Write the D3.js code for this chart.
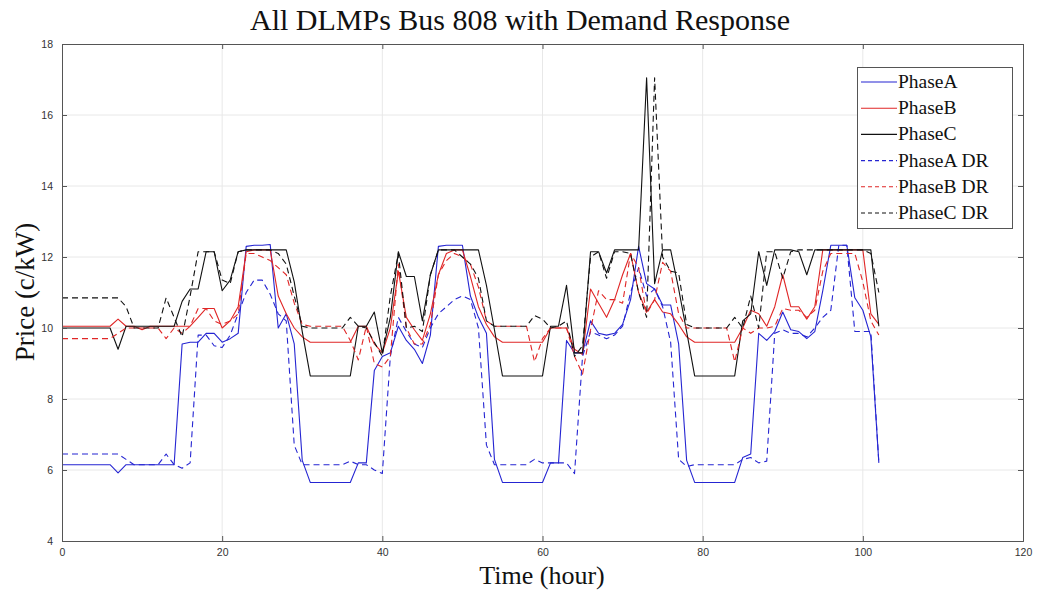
<!DOCTYPE html>
<html><head><meta charset="utf-8">
<script src="https://cdn.jsdelivr.net/npm/d3@7"></script>
<style>
html,body{margin:0;padding:0;background:#fff;}
svg{display:block;}
</style></head>
<body>
<svg id="chart" width="1039" height="590"></svg>
<script>
const hours = d3.range(0, 103);
const xTicks = [0, 20, 40, 60, 80, 100, 120];
const yTicks = [4, 6, 8, 10, 12, 14, 16, 18];
const seriesNames = ["PhaseA", "PhaseB", "PhaseC", "PhaseA DR", "PhaseB DR", "PhaseC DR"];

const phaseA = [6.15,6.15,6.15,6.15,6.15,6.15,6.15,5.92,6.15,6.15,
 6.15,6.15,6.15,6.15,6.15,9.55,9.6,9.6,9.85,9.85,
 9.6,9.7,9.85,12.3,12.33,12.33,12.35,10.0,10.4,9.55,
 6.27,5.65,5.65,5.65,5.65,5.65,5.65,6.2,6.2,8.8,
 9.2,9.3,10.05,9.65,9.4,9.0,9.8,12.3,12.33,12.33,
 12.33,10.9,10.3,9.85,6.3,5.65,5.65,5.65,5.65,5.65,
 5.65,6.2,6.2,9.65,9.3,9.3,10.2,9.85,9.8,9.85,
 10.1,10.8,12.3,11.25,11.1,10.65,10.65,9.55,6.27,5.65,
 5.65,5.65,5.65,5.65,5.65,6.35,6.45,9.85,9.65,9.9,
 10.45,9.95,9.9,9.7,9.9,11.05,12.33,12.33,12.33,10.85,
 10.5,9.75,6.2];
const phaseB = [10.05,10.05,10.05,10.05,10.05,10.05,10.05,10.25,10.05,10.05,
 9.95,10.05,10.05,10.05,10.05,10.05,10.05,10.3,10.55,10.55,
 10.0,10.2,10.6,12.15,12.2,12.2,12.2,10.9,10.4,10.0,
 9.75,9.6,9.6,9.6,9.6,9.6,9.6,10.05,10.05,9.55,
 9.3,10.0,11.6,10.3,9.95,9.65,10.4,11.5,12.1,12.2,
 12.2,11.45,10.6,10.1,9.75,9.6,9.6,9.6,9.6,9.6,
 9.6,10.0,10.0,10.0,9.4,9.25,11.1,10.7,10.3,10.8,
 11.5,12.1,11.0,10.45,10.8,10.45,10.4,10.1,9.75,9.6,
 9.6,9.6,9.6,9.6,9.6,10.0,10.5,10.4,10.05,10.6,
 11.5,10.6,10.6,10.25,10.6,12.2,12.2,12.2,12.2,12.2,
 12.2,10.4,10.1];
const phaseC = [10.0,10.0,10.0,10.0,10.0,10.0,10.0,9.4,10.05,10.05,
 10.05,10.05,10.05,10.05,10.05,10.75,11.1,11.1,12.15,12.15,
 11.05,11.35,12.15,12.2,12.2,12.2,12.2,12.2,12.2,11.3,
 9.9,8.65,8.65,8.65,8.65,8.65,8.65,10.05,10.05,10.45,
 9.3,10.3,12.15,11.45,11.45,10.2,11.5,12.2,12.2,12.2,
 12.2,12.2,12.2,11.2,9.95,8.65,8.65,8.65,8.65,8.65,
 8.65,10.05,10.05,11.2,9.3,9.3,12.15,12.15,11.55,12.2,
 12.2,12.2,12.2,17.05,11.25,12.2,12.2,11.1,9.9,8.65,
 8.65,8.65,8.65,8.65,8.65,10.2,10.4,12.15,11.2,12.2,
 12.2,12.2,12.15,11.5,12.2,12.2,12.2,12.2,12.2,12.2,
 12.2,12.2,10.05];
const phaseADR = [6.45,6.45,6.45,6.45,6.45,6.45,6.45,6.45,6.3,6.15,
 6.15,6.15,6.15,6.45,6.15,6.05,6.2,9.8,9.8,9.5,
 9.45,9.8,10.4,11.0,11.35,11.35,10.95,10.4,10.2,6.7,
 6.15,6.15,6.15,6.15,6.15,6.15,6.25,6.15,6.15,6.0,
 5.9,9.2,10.3,9.9,9.55,9.45,10.0,10.4,10.6,10.8,
 10.9,10.8,10.0,6.7,6.15,6.15,6.15,6.15,6.15,6.3,
 6.2,6.2,6.2,6.2,5.9,9.2,9.9,9.8,9.7,9.8,
 10.05,11.0,11.7,10.9,11.1,10.6,9.6,6.3,6.1,6.15,
 6.15,6.15,6.15,6.15,6.15,6.3,6.35,6.2,6.25,9.85,
 9.95,9.85,9.85,9.75,10.0,10.3,10.5,12.33,12.33,9.9,
 9.9,9.9,6.2];
const phaseBDR = [9.7,9.7,9.7,9.7,9.7,9.7,9.7,9.85,10.0,10.0,
 10.0,10.0,10.0,9.7,10.0,9.85,10.05,10.55,10.55,10.2,
 10.1,10.2,10.4,12.1,12.1,12.0,11.9,11.7,11.5,10.7,
 10.1,10.05,10.05,10.05,10.05,10.05,9.65,9.1,10.05,9.0,
 8.9,9.2,11.8,10.0,9.55,9.55,10.1,11.5,11.9,12.1,
 12.0,11.8,11.15,10.2,10.05,10.05,10.05,10.05,10.05,9.05,
 9.7,10.0,10.0,10.0,9.2,8.7,9.95,11.05,10.8,10.8,
 10.7,12.1,11.7,10.4,10.8,11.85,11.6,10.4,10.0,10.0,
 10.0,10.0,10.0,10.0,9.05,10.0,9.85,10.0,10.0,10.05,
 10.55,10.5,10.5,10.3,10.5,11.6,12.1,12.1,12.1,12.1,
 11.3,10.2,9.8];
const phaseCDR = [10.85,10.85,10.85,10.85,10.85,10.85,10.85,10.85,10.6,10.0,
 10.0,10.0,10.0,10.85,10.3,9.75,10.9,12.15,12.15,12.15,
 11.35,11.25,12.15,12.2,12.2,12.2,12.2,12.1,11.8,10.9,
 10.05,10.0,10.0,10.0,10.0,10.0,10.3,10.05,10.0,9.6,
 9.2,10.9,12.1,10.0,10.05,9.9,11.5,12.2,12.2,12.2,
 12.0,11.8,11.4,10.2,10.05,10.05,10.05,10.05,10.05,10.35,
 10.25,10.0,10.05,10.2,9.2,9.5,12.0,12.15,11.4,12.15,
 12.15,12.1,11.0,10.3,17.05,12.0,11.6,11.55,10.1,10.0,
 10.0,10.0,10.0,10.0,10.3,10.0,10.9,10.0,12.15,12.15,
 11.4,12.15,12.2,12.2,12.2,12.2,12.2,12.2,12.2,12.2,
 12.2,12.1,11.0];

const seriesValues = [phaseA, phaseB, phaseC, phaseADR, phaseBDR, phaseCDR];
const colors = ["#2525d2", "#e02626", "#111111", "#2525d2", "#e02626", "#111111"];
const dashes = [null, null, null, "6,4", "6,4", "6,4"];

const svg = d3.select("#chart");
const M = {left: 62, top: 44, right: 1023, bottom: 541};
const x = d3.scaleLinear().domain([0, 120]).range([M.left, M.right]);
const y = d3.scaleLinear().domain([4, 18]).range([M.bottom, M.top]);

// grid
const grid = svg.append("g");
grid.selectAll("line.vx").data(xTicks.slice(1, -1)).enter().append("line")
  .attr("x1", d => x(d)).attr("x2", d => x(d)).attr("y1", M.top).attr("y2", M.bottom)
  .attr("stroke", "#e8e8e8").attr("stroke-width", 1);
grid.selectAll("line.hy").data(yTicks.slice(1, -1)).enter().append("line")
  .attr("y1", d => y(d)).attr("y2", d => y(d)).attr("x1", M.left).attr("x2", M.right)
  .attr("stroke", "#e8e8e8").attr("stroke-width", 1);

// lines
svg.append("clipPath").attr("id", "clip").append("rect")
  .attr("x", M.left).attr("y", M.top).attr("width", M.right - M.left).attr("height", M.bottom - M.top);
const lineGen = d3.line().x((d, i) => x(hours[i])).y(d => y(d));
const lg = svg.append("g").attr("clip-path", "url(#clip)");
seriesValues.forEach((vals, k) => {
  lg.append("path").datum(vals)
    .attr("d", lineGen)
    .attr("fill", "none")
    .attr("stroke", colors[k])
    .attr("stroke-width", 1.1)
    .attr("stroke-linejoin", "round")
    .attr("stroke-dasharray", dashes[k]);
});

// axes
const axisColor = "#555";
const tickFont = "Liberation Sans, Arial, sans-serif";
const xAxis = svg.append("g").attr("transform", `translate(0,${M.bottom})`)
  .call(d3.axisBottom(x).tickValues(xTicks).tickSize(-5).tickPadding(8).tickFormat(d3.format("d")));
const xAxisTop = svg.append("g").attr("transform", `translate(0,${M.top})`)
  .call(d3.axisTop(x).tickValues(xTicks).tickSize(-5).tickFormat(""));
const yAxis = svg.append("g").attr("transform", `translate(${M.left},0)`)
  .call(d3.axisLeft(y).tickValues(yTicks).tickSize(-5).tickPadding(9).tickFormat(d3.format("d")));
const yAxisR = svg.append("g").attr("transform", `translate(${M.right},0)`)
  .call(d3.axisRight(y).tickValues(yTicks).tickSize(-5).tickFormat(""));
[xAxis, xAxisTop, yAxis, yAxisR].forEach(a => {
  a.select(".domain").attr("stroke", axisColor).attr("stroke-width", 1);
  a.selectAll(".tick line").attr("stroke", axisColor).attr("stroke-width", 1);
  a.selectAll(".tick text").attr("fill", "#333").style("font-family", tickFont).style("font-size", "10.5px");
});

function fitText(sel, targetWidth) {
  const w = sel.node().getComputedTextLength();
  const fs = parseFloat(sel.style("font-size"));
  sel.style("font-size", (fs * targetWidth / w) + "px");
}
const serif = "'Liberation Serif', 'DejaVu Serif', serif";

const title = svg.append("text").attr("x", 520).attr("y", 30)
  .attr("text-anchor", "middle").style("font-family", serif).style("font-size", "26px")
  .attr("fill", "#111").text("All DLMPs Bus 808 with Demand Response");
fitText(title, 540);

svg.append("text").attr("x", 542).attr("y", 584)
  .attr("text-anchor", "middle").style("font-family", serif).style("font-size", "26px")
  .attr("fill", "#111").text("Time (hour)");

svg.append("text").attr("transform", "translate(34,292) rotate(-90)")
  .attr("text-anchor", "middle").style("font-family", serif).style("font-size", "27px")
  .attr("fill", "#111").text("Price (c/kW)");

// legend
const leg = svg.append("g");
leg.append("rect").attr("x", 857.5).attr("y", 67.5).attr("width", 155).attr("height", 161)
  .attr("fill", "#fff").attr("stroke", "#555").attr("stroke-width", 1);
const rowY = d3.scalePoint().domain(seriesNames).range([82, 213]);
seriesNames.forEach((name, k) => {
  const yy = rowY(name);
  leg.append("line").attr("x1", 861).attr("x2", 897).attr("y1", yy).attr("y2", yy)
    .attr("stroke", colors[k]).attr("stroke-width", 1.1).attr("stroke-dasharray", dashes[k] ? "4,3" : null);
  leg.append("text").attr("x", 898).attr("y", yy + 6).style("font-family", serif).style("font-size", "19.5px")
    .attr("fill", "#111").text(name);
});
</script>
</body></html>
